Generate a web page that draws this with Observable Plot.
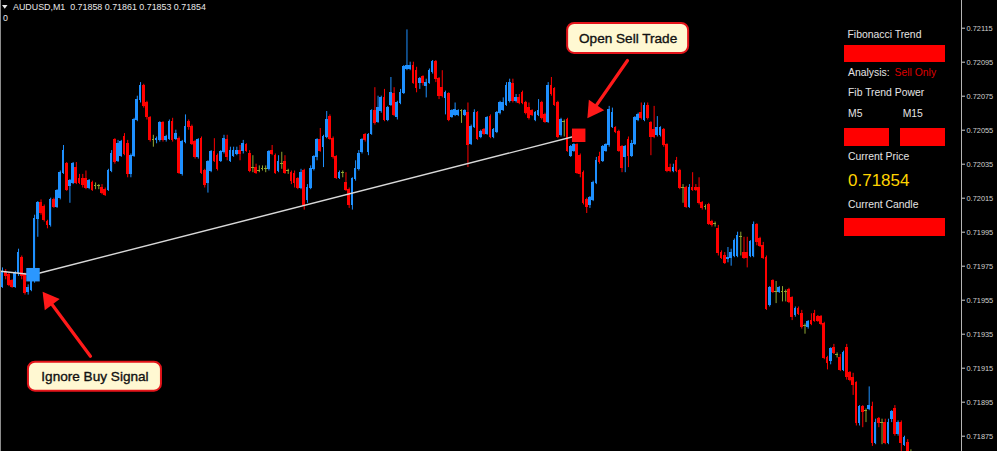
<!DOCTYPE html>
<html>
<head>
<meta charset="utf-8">
<script src="https://cdn.jsdelivr.net/npm/d3@7"></script>
<script src="https://cdn.jsdelivr.net/npm/@observablehq/plot@0.6"></script>
<style>
  html, body { margin: 0; padding: 0; background: #000; }
  #chart { position: relative; width: 997px; height: 451px; overflow: hidden; background: #000; }
  #chart text { white-space: pre; }
</style>
</head>
<body>
<div id="chart"></div>
<script>
// AUDUSD M1 bars, oldest first
const candleOpen = [
  0.71963,0.71971,0.71970,0.71966,0.71963,0.71971,0.71980,0.71970,0.71960,0.71961,
  0.71967,0.72003,0.72012,0.72010,0.72001,0.71999,0.72014,0.72010,0.72015,0.72030,
  0.72035,0.72022,0.72024,0.72033,0.72026,0.72026,0.72026,0.72021,0.72024,0.72022,
  0.72022,0.72021,0.72020,0.72020,0.72031,0.72049,0.72037,0.72040,0.72051,0.72047,
  0.72029,0.72040,0.72061,0.72073,0.72081,0.72071,0.72062,0.72049,0.72049,0.72049,
  0.72059,0.72049,0.72050,0.72060,0.72050,0.72050,0.72029,0.72048,0.72060,0.72057,
  0.72048,0.72039,0.72050,0.72031,0.72024,0.72031,0.72042,0.72040,0.72037,0.72042,
  0.72049,0.72037,0.72040,0.72041,0.72043,0.72043,0.72046,0.72041,0.72033,0.72033,
  0.72031,0.72032,0.72032,0.72032,0.72043,0.72040,0.72031,0.72035,0.72036,0.72031,
  0.72030,0.72029,0.72026,0.72021,0.72031,0.72014,0.72021,0.72032,0.72039,0.72049,
  0.72045,0.72051,0.72063,0.72050,0.72039,0.72027,0.72030,0.72024,0.72020,0.72011,
  0.72026,0.72032,0.72042,0.72052,0.72042,0.72053,0.72066,0.72060,0.72066,0.72074,
  0.72061,0.72070,0.72076,0.72063,0.72071,0.72077,0.72091,0.72091,0.72093,0.72090,
  0.72083,0.72086,0.72081,0.72083,0.72089,0.72095,0.72085,0.72080,0.72074,0.72076,
  0.72063,0.72064,0.72064,0.72066,0.72064,0.72065,0.72047,0.72057,0.72065,0.72051,
  0.72055,0.72053,0.72063,0.72051,0.72054,0.72065,0.72067,0.72070,0.72072,0.72082,
  0.72072,0.72074,0.72077,0.72071,0.72068,0.72066,0.72061,0.72064,0.72071,0.72064,
  0.72060,0.72081,0.72079,0.72071,0.72052,0.72060,0.72061,0.72040,0.72043,0.72046,
  0.72040,0.72030,0.72014,0.72011,0.72014,0.72024,0.72039,0.72037,0.72043,0.72046,
  0.72057,0.72056,0.72054,0.72045,0.72039,0.72049,0.72040,0.72047,0.72061,0.72065,
  0.72061,0.72069,0.72059,0.72055,0.72052,0.72052,0.72055,0.72046,0.72033,0.72031,
  0.72037,0.72031,0.72021,0.72021,0.72010,0.72021,0.72021,0.72021,0.72012,0.72010,
  0.72011,0.72001,0.72000,0.71997,0.71983,0.71981,0.71979,0.71980,0.71981,0.71981,
  0.71992,0.71983,0.71983,0.71981,0.71981,0.71999,0.71991,0.71987,0.71980,0.71952,
  0.71966,0.71960,0.71960,0.71960,0.71960,0.71961,0.71956,0.71946,0.71950,0.71947,
  0.71940,0.71939,0.71943,0.71947,0.71945,0.71945,0.71941,0.71921,0.71919,0.71927,
  0.71923,0.71921,0.71914,0.71927,0.71912,0.71909,0.71906,0.71883,0.71892,0.71890,
  0.71891,0.71892,0.71871,0.71885,0.71883,0.71883,0.71871,0.71885,0.71891,0.71876,
  0.71883,0.71870,0.71871,0.71862,0.71858
];
const candleHigh = [
  0.71974,0.71973,0.71971,0.71967,0.71972,0.71985,0.71981,0.71971,0.71964,0.71969,
  0.72005,0.72013,0.72014,0.72011,0.72002,0.72015,0.72015,0.72020,0.72031,0.72046,
  0.72036,0.72026,0.72036,0.72036,0.72029,0.72029,0.72031,0.72026,0.72025,0.72024,
  0.72023,0.72023,0.72021,0.72032,0.72043,0.72050,0.72049,0.72049,0.72053,0.72049,
  0.72041,0.72062,0.72075,0.72083,0.72082,0.72072,0.72063,0.72052,0.72051,0.72060,
  0.72060,0.72052,0.72061,0.72062,0.72055,0.72051,0.72049,0.72064,0.72061,0.72058,
  0.72049,0.72050,0.72051,0.72032,0.72037,0.72043,0.72050,0.72041,0.72043,0.72052,
  0.72052,0.72045,0.72045,0.72045,0.72046,0.72049,0.72047,0.72043,0.72040,0.72035,
  0.72034,0.72034,0.72034,0.72043,0.72046,0.72041,0.72040,0.72042,0.72040,0.72032,
  0.72031,0.72031,0.72027,0.72032,0.72032,0.72023,0.72034,0.72040,0.72050,0.72056,
  0.72052,0.72066,0.72064,0.72051,0.72040,0.72031,0.72031,0.72030,0.72021,0.72027,
  0.72037,0.72043,0.72050,0.72053,0.72053,0.72067,0.72080,0.72075,0.72075,0.72079,
  0.72069,0.72086,0.72080,0.72072,0.72079,0.72093,0.72114,0.72095,0.72095,0.72092,
  0.72086,0.72087,0.72085,0.72091,0.72096,0.72096,0.72086,0.72090,0.72078,0.72077,
  0.72067,0.72071,0.72067,0.72067,0.72067,0.72071,0.72058,0.72067,0.72066,0.72055,
  0.72056,0.72063,0.72064,0.72056,0.72066,0.72072,0.72074,0.72083,0.72085,0.72085,
  0.72076,0.72076,0.72078,0.72072,0.72071,0.72067,0.72066,0.72073,0.72072,0.72065,
  0.72083,0.72086,0.72080,0.72072,0.72062,0.72061,0.72062,0.72046,0.72047,0.72047,
  0.72041,0.72031,0.72015,0.72016,0.72025,0.72039,0.72042,0.72046,0.72047,0.72069,
  0.72068,0.72057,0.72055,0.72046,0.72046,0.72051,0.72049,0.72063,0.72065,0.72071,
  0.72071,0.72071,0.72060,0.72069,0.72063,0.72057,0.72056,0.72047,0.72035,0.72035,
  0.72039,0.72032,0.72023,0.72022,0.72023,0.72030,0.72023,0.72027,0.72013,0.72011,
  0.72012,0.72002,0.72001,0.71999,0.71984,0.71983,0.71986,0.71985,0.71991,0.71995,
  0.71995,0.71992,0.71992,0.71990,0.72001,0.72000,0.71992,0.71989,0.71981,0.71963,
  0.71967,0.71966,0.71963,0.71963,0.71961,0.71962,0.71957,0.71951,0.71951,0.71949,
  0.71941,0.71943,0.71947,0.71949,0.71946,0.71946,0.71942,0.71922,0.71927,0.71929,
  0.71924,0.71923,0.71925,0.71929,0.71913,0.71912,0.71907,0.71893,0.71893,0.71891,
  0.71904,0.71895,0.71885,0.71886,0.71885,0.71885,0.71885,0.71890,0.71893,0.71884,
  0.71884,0.71875,0.71873,0.71867,0.71861
];
const candleLow = [
  0.71962,0.71967,0.71963,0.71962,0.71962,0.71969,0.71967,0.71958,0.71958,0.71960,
  0.71965,0.71992,0.72005,0.72001,0.71997,0.71998,0.72009,0.72009,0.72014,0.72029,
  0.72019,0.72012,0.72023,0.72023,0.72023,0.72021,0.72020,0.72020,0.72019,0.72020,
  0.72020,0.72017,0.72016,0.72019,0.72030,0.72035,0.72036,0.72039,0.72040,0.72027,
  0.72027,0.72039,0.72060,0.72071,0.72068,0.72061,0.72048,0.72045,0.72047,0.72048,
  0.72048,0.72048,0.72049,0.72048,0.72049,0.72029,0.72028,0.72047,0.72055,0.72046,
  0.72038,0.72038,0.72029,0.72021,0.72018,0.72030,0.72036,0.72031,0.72036,0.72041,
  0.72037,0.72036,0.72039,0.72040,0.72037,0.72041,0.72042,0.72030,0.72030,0.72029,
  0.72030,0.72031,0.72030,0.72031,0.72040,0.72029,0.72030,0.72032,0.72029,0.72029,
  0.72023,0.72021,0.72020,0.72020,0.72008,0.72012,0.72020,0.72031,0.72037,0.72042,
  0.72033,0.72050,0.72049,0.72038,0.72026,0.72026,0.72027,0.72019,0.72009,0.72008,
  0.72025,0.72031,0.72041,0.72048,0.72040,0.72052,0.72058,0.72059,0.72065,0.72060,
  0.72060,0.72069,0.72063,0.72061,0.72070,0.72076,0.72090,0.72090,0.72082,0.72077,
  0.72079,0.72081,0.72074,0.72082,0.72088,0.72083,0.72073,0.72074,0.72064,0.72060,
  0.72062,0.72063,0.72063,0.72059,0.72063,0.72033,0.72046,0.72056,0.72049,0.72050,
  0.72052,0.72052,0.72050,0.72050,0.72053,0.72064,0.72066,0.72069,0.72071,0.72071,
  0.72071,0.72070,0.72070,0.72064,0.72061,0.72063,0.72060,0.72063,0.72061,0.72059,
  0.72059,0.72075,0.72069,0.72050,0.72051,0.72051,0.72042,0.72039,0.72042,0.72029,
  0.72027,0.72011,0.72006,0.72009,0.72013,0.72023,0.72035,0.72036,0.72042,0.72045,
  0.72056,0.72053,0.72042,0.72030,0.72030,0.72033,0.72039,0.72046,0.72060,0.72061,
  0.72060,0.72061,0.72040,0.72050,0.72051,0.72051,0.72045,0.72030,0.72030,0.72030,
  0.72030,0.72020,0.72012,0.72009,0.72009,0.72019,0.72019,0.72011,0.72008,0.72008,
  0.71999,0.71998,0.71998,0.71981,0.71979,0.71976,0.71977,0.71975,0.71980,0.71980,
  0.71981,0.71979,0.71974,0.71980,0.71980,0.71987,0.71986,0.71979,0.71949,0.71951,
  0.71959,0.71953,0.71959,0.71954,0.71954,0.71953,0.71943,0.71945,0.71946,0.71938,
  0.71935,0.71938,0.71940,0.71942,0.71942,0.71940,0.71920,0.71914,0.71917,0.71923,
  0.71921,0.71913,0.71913,0.71908,0.71907,0.71899,0.71881,0.71881,0.71880,0.71883,
  0.71890,0.71869,0.71870,0.71880,0.71870,0.71870,0.71870,0.71883,0.71875,0.71875,
  0.71866,0.71869,0.71860,0.71858,0.71853
];
const candleClose = [
  0.71971,0.71969,0.71964,0.71963,0.71971,0.71983,0.71969,0.71959,0.71962,0.71967,
  0.72003,0.72012,0.72006,0.72002,0.71999,0.72014,0.72010,0.72019,0.72030,0.72043,
  0.72020,0.72025,0.72035,0.72024,0.72024,0.72023,0.72021,0.72025,0.72020,0.72022,
  0.72022,0.72018,0.72017,0.72031,0.72041,0.72036,0.72047,0.72048,0.72041,0.72029,
  0.72040,0.72061,0.72073,0.72081,0.72069,0.72063,0.72049,0.72049,0.72050,0.72059,
  0.72049,0.72051,0.72060,0.72049,0.72053,0.72030,0.72048,0.72057,0.72057,0.72047,
  0.72039,0.72049,0.72030,0.72023,0.72036,0.72042,0.72037,0.72032,0.72042,0.72050,
  0.72039,0.72043,0.72043,0.72043,0.72041,0.72047,0.72043,0.72031,0.72033,0.72030,
  0.72031,0.72032,0.72032,0.72042,0.72041,0.72030,0.72036,0.72035,0.72030,0.72031,
  0.72025,0.72024,0.72021,0.72030,0.72011,0.72021,0.72032,0.72039,0.72049,0.72043,
  0.72051,0.72061,0.72050,0.72039,0.72027,0.72030,0.72030,0.72020,0.72011,0.72026,
  0.72032,0.72041,0.72049,0.72049,0.72052,0.72066,0.72059,0.72068,0.72074,0.72061,
  0.72068,0.72077,0.72064,0.72071,0.72077,0.72092,0.72093,0.72093,0.72083,0.72080,
  0.72085,0.72083,0.72083,0.72090,0.72095,0.72085,0.72075,0.72075,0.72077,0.72061,
  0.72066,0.72067,0.72066,0.72066,0.72066,0.72046,0.72057,0.72065,0.72050,0.72054,
  0.72053,0.72062,0.72051,0.72055,0.72065,0.72071,0.72071,0.72081,0.72083,0.72072,
  0.72074,0.72071,0.72071,0.72065,0.72062,0.72064,0.72065,0.72066,0.72062,0.72060,
  0.72081,0.72076,0.72070,0.72051,0.72061,0.72060,0.72043,0.72045,0.72046,0.72030,
  0.72029,0.72012,0.72010,0.72015,0.72024,0.72037,0.72036,0.72045,0.72046,0.72067,
  0.72065,0.72054,0.72043,0.72033,0.72045,0.72040,0.72047,0.72062,0.72064,0.72062,
  0.72069,0.72062,0.72051,0.72051,0.72056,0.72056,0.72046,0.72031,0.72031,0.72033,
  0.72031,0.72021,0.72021,0.72010,0.72021,0.72020,0.72020,0.72012,0.72009,0.72010,
  0.72000,0.71999,0.72000,0.71983,0.71980,0.71977,0.71980,0.71983,0.71990,0.71993,
  0.71992,0.71980,0.71980,0.71989,0.71999,0.71989,0.71987,0.71980,0.71950,0.71962,
  0.71960,0.71960,0.71962,0.71960,0.71960,0.71954,0.71945,0.71950,0.71947,0.71939,
  0.71940,0.71942,0.71941,0.71943,0.71943,0.71941,0.71921,0.71918,0.71926,0.71924,
  0.71923,0.71914,0.71924,0.71910,0.71908,0.71905,0.71883,0.71892,0.71889,0.71890,
  0.71893,0.71871,0.71883,0.71883,0.71883,0.71871,0.71883,0.71889,0.71876,0.71883,
  0.71871,0.71874,0.71861,0.71862,0.71854
];

const symbolName = "AUDUSD,M1";
const priceTicks = [0.72115, 0.72095, 0.72075, 0.72055, 0.72035, 0.72015, 0.71995,
                    0.71975, 0.71955, 0.71935, 0.71915, 0.71895, 0.71875];

// ZigZag line: bar index and price of its turning points
const zigzagIndex = [-0.62, 9.5, 179.5];
const zigzagPrice = [0.71972, 0.71970, 0.72052];

// Signal boxes
const signalKind  = ["buy", "sell"];
const signalIndex = [9.5, 179.5];
const signalPrice = [0.71970, 0.72052];

// Callouts and their arrows
const calloutText  = ["Ignore Buy Signal", "Open Sell Trade"];
const calloutIndex = [28.8, 194.9];
const calloutPrice = [0.71910, 0.72109];
const arrowFromIndex = [27.4, 194.7];
const arrowFromPrice = [0.71922, 0.72096];
const arrowToIndex   = [12.5, 182.2];
const arrowToPrice   = [0.71960, 0.72062];

// Indicator panel
const panelTitle = "Fibonacci Trend";
const analysisLabel = "Analysis:";
const analysisText = "Sell Only";
const powerTitle = "Fib Trend Power";
const powerFrames = ["M5", "M15"];
const priceTitle = "Current Price";
const candleTitle = "Current Candle";

// ---- build tables ----
const candles = candleOpen.map((o, i) => ({
  i, open: o, high: candleHigh[i], low: candleLow[i], close: candleClose[i]
}));
const last = candles[candles.length - 1];
const zigzag = zigzagIndex.map((i, k) => ({i, price: zigzagPrice[k]}));
const signals = signalKind.map((kind, k) => ({kind, i: signalIndex[k], price: signalPrice[k]}));
const callouts = calloutText.map((text, k) => ({text, i: calloutIndex[k], price: calloutPrice[k]}));
const arrows = arrowFromIndex.map((i, k) => ({
  x1: i, y1: arrowFromPrice[k], x2: arrowToIndex[k], y2: arrowToPrice[k]
}));

const BULL = "#1e90ff", BEAR = "#ff0000", DOJI = "#8fa832", ARROW = "#ff1a1a";
const candleColor = d => d.close > d.open ? BULL : d.close < d.open ? BEAR : DOJI;
const fmt = d => d.toFixed(5);

// box sizes (px) and arrowhead placement per callout
const calloutBox = [{w: 133, h: 29}, {w: 121, h: 30}];
const headStyle = [{rotate: -36.9, dx: 6.4, dy: 8.6}, {rotate: -145.4, dx: 6.1, dy: -8.8}];

const marks = [
  // wicks and bodies
  Plot.ruleX(candles, {x: "i", y1: "low", y2: "high", stroke: candleColor, strokeWidth: 1, clip: true}),
  Plot.rect(candles, {
    x1: d => d.i - 0.42, x2: d => d.i + 0.42, y1: "open", y2: "close",
    fill: candleColor, insetTop: -0.5, insetBottom: -0.5, clip: true, shapeRendering: "crispEdges"
  }),
  // zigzag
  Plot.line(zigzag, {x: "i", y: "price", stroke: "#d8d8d8", strokeWidth: 1.4, clip: true}),
  // signal squares
  Plot.dot(signals, {
    x: "i", y: "price", symbol: "square", r: 7.6,
    fill: d => d.kind === "buy" ? "#2b97ff" : "#ff1212", stroke: "none"
  }),
  // arrow shafts
  Plot.arrow(arrows, {x1: "x1", y1: "y1", x2: "x2", y2: "y2", stroke: ARROW, strokeWidth: 3.2, headLength: 0, insetEnd: 9}),
  // y axis on the right
  Plot.axisY(priceTicks, {
    anchor: "right", tickSize: 3, tickPadding: 2, tickFormat: fmt,
    fontSize: 7.4, color: "#d0d0d0", label: null
  })
];
arrows.forEach((a, k) => {
  marks.push(Plot.dot([a], {
    x: "x2", y: "y2", symbol: "triangle", r: 6.9, fill: ARROW, stroke: "none",
    rotate: headStyle[k].rotate, dx: headStyle[k].dx, dy: headStyle[k].dy
  }));
});
callouts.forEach((c, k) => {
  const {w, h} = calloutBox[k];
  marks.push(Plot.rect([c], {
    x1: "i", x2: "i", y1: "price", y2: "price",
    insetLeft: -w / 2, insetRight: -w / 2, insetTop: -h / 2, insetBottom: -h / 2,
    rx: 7, fill: "#fff8d2", stroke: "#e3141a", strokeWidth: 2
  }));
  marks.push(Plot.text([c], {
    x: "i", y: "price", text: "text", fontSize: 13.6, fill: "#111",
    stroke: "#111", strokeWidth: 0.35, fontFamily: "Liberation Sans, Arial, sans-serif"
  }));
});

const svg = Plot.plot({
  width: 997, height: 451,
  marginTop: 0, marginBottom: 0, marginLeft: 0, marginRight: 36,
  style: {background: "#000", color: "#d0d0d0", fontFamily: "Liberation Sans, Arial, sans-serif"},
  x: {domain: [0, 284], range: [2, 913.64], axis: null},
  y: {domain: [0.71866, 0.7213129], range: [451, 0], axis: null},
  color: {type: "identity"},
  marks
});
document.getElementById("chart").appendChild(svg);

// chart border, header and indicator panel
const g = d3.select(svg).append("g")
  .attr("font-family", "Liberation Sans, Arial, sans-serif")
  .attr("text-anchor", "start");
g.append("line").attr("x1", 0.5).attr("x2", 0.5).attr("y1", 0).attr("y2", 451).attr("stroke", "#8c8c8c");
g.append("line").attr("x1", 961.5).attr("x2", 961.5).attr("y1", 0).attr("y2", 451).attr("stroke", "#b4b4b4");

g.append("path").attr("d", "M2,5 L7.5,5 L4.75,8.8 Z").attr("fill", "#e8e8e8");
g.append("text").attr("x", 13).attr("y", 10).attr("font-size", 8.9).attr("fill", "#e8e8e8")
  .text(`${symbolName}  ${fmt(last.open)} ${fmt(last.high)} ${fmt(last.low)} ${fmt(last.close)}`);
g.append("text").attr("x", 3).attr("y", 20.6).attr("font-size", 8.9).attr("fill", "#e8e8e8").text("0");

const txt = (x, y, s, size, fill) =>
  g.append("text").attr("x", x).attr("y", y).attr("font-size", size).attr("fill", fill)
    .attr("text-anchor", "start").text(s);
const cell = (x, y, w, h) =>
  g.append("rect").attr("x", x).attr("y", y).attr("width", w).attr("height", h).attr("fill", "#ff0000");

txt(847.5, 37.6, panelTitle, 10.4, "#e4e4e4");
cell(844, 45, 101, 17);
txt(848, 75.8, analysisLabel, 10.4, "#e4e4e4");
txt(894.5, 75.8, analysisText, 10.4, "#dd0000");
txt(848, 96.2, powerTitle, 10.4, "#e4e4e4");
txt(848, 116.8, powerFrames[0], 10.4, "#e4e4e4");
txt(902.7, 116.8, powerFrames[1], 10.4, "#e4e4e4");
cell(844, 128, 45, 18);
cell(900, 128, 45, 18);
txt(848, 159.6, priceTitle, 10.4, "#e4e4e4");
txt(848, 186, fmt(last.close), 17, "#ffd400");
txt(848, 207.6, candleTitle, 10.4, "#e4e4e4");
cell(844, 218, 101, 18);
</script>
</body>
</html>
